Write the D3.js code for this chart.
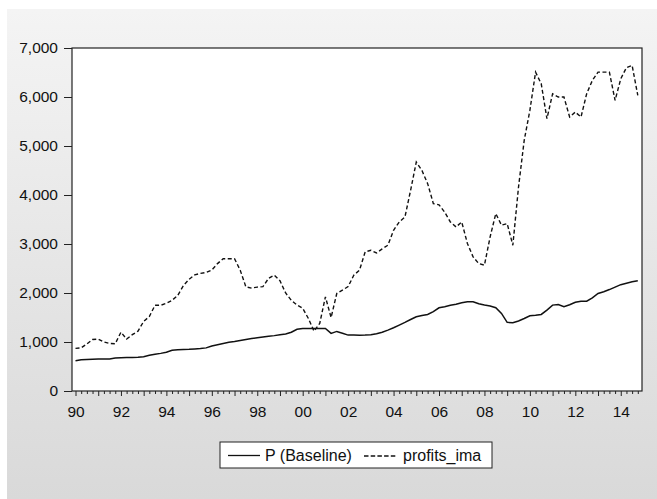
<!DOCTYPE html>
<html><head><meta charset="utf-8">
<script src="https://cdn.jsdelivr.net/npm/d3@7"></script>
<style>html,body{margin:0;padding:0;background:#fff;}svg{display:block;font-family:"Liberation Sans",Arial,sans-serif;}</style>
</head><body>
<svg id="c" width="657" height="499"></svg>
<script>
// ---- data (quarterly, 1990Q1 - 2014Q4) ----
const startYear = 1990;
const endYear = 2014;
const seriesNames = ["P (Baseline)", "profits_ima"];
const pBaseline = [
  618, 640, 645, 650,     // 1990
  652, 652, 655, 672,     // 1991
  680, 682, 685, 690,     // 1992
  699, 730, 750, 768,     // 1993
  790, 830, 840, 845,     // 1994
  850, 858, 865, 880,     // 1995
  920, 945, 970, 995,     // 1996
  1010, 1030, 1050, 1070, // 1997
  1085, 1100, 1115, 1130, // 1998
  1150, 1165, 1200, 1260, // 1999
  1275, 1277, 1277, 1277, // 2000
  1277, 1175, 1216, 1180, // 2001
  1141, 1141, 1140, 1141, // 2002
  1150, 1168, 1200, 1243, // 2003
  1290, 1345, 1400, 1460, // 2004
  1515, 1540, 1562, 1620, // 2005
  1698, 1720, 1750, 1770, // 2006
  1800, 1821, 1821, 1780, // 2007
  1753, 1735, 1700, 1583, // 2008
  1400, 1392, 1430, 1480, // 2009
  1535, 1545, 1562, 1650, // 2010
  1753, 1766, 1719, 1760, // 2011
  1810, 1830, 1834, 1900, // 2012
  1990, 2025, 2070, 2120, // 2013
  2170, 2200, 2230, 2250  // 2014
];
const profitsIma = [
  870, 880, 960, 1050,    // 1990
  1060, 1000, 970, 965,   // 1991
  1200, 1060, 1150, 1220, // 1992
  1420, 1520, 1750, 1750, // 1993
  1790, 1850, 1950, 2150, // 1994
  2280, 2370, 2400, 2420, // 1995
  2470, 2600, 2700, 2700, // 1996
  2700, 2466, 2126, 2100, // 1997
  2120, 2130, 2300, 2364, // 1998
  2250, 2000, 1850, 1753, // 1999
  1690, 1480, 1220, 1380, // 2000
  1922, 1500, 1990, 2060, // 2001
  2130, 2364, 2466, 2839, // 2002
  2873, 2817, 2900, 2975, // 2003
  3281, 3450, 3550, 4096, // 2004
  4673, 4500, 4232, 3825, // 2005
  3800, 3650, 3450, 3348, // 2006
  3450, 3010, 2737, 2600, // 2007
  2568, 3145, 3621, 3383, // 2008
  3417, 2975, 4164, 5115, // 2009
  5727, 6507, 6270, 5557, // 2010
  6067, 5999, 5999, 5591, // 2011
  5693, 5591, 6067, 6338, // 2012
  6507, 6507, 6507, 5930, // 2013
  6372, 6600, 6644, 6032  // 2014
];
const yTicks = [0, 1000, 2000, 3000, 4000, 5000, 6000, 7000];
const xTickLabels = ["90","92","94","96","98","00","02","04","06","08","10","12","14"];

// ---- drawing ----
const FONT = "Liberation Sans, Arial, sans-serif";
const svg = d3.select("#c");
const defs = svg.append("defs");
const grad = defs.append("linearGradient").attr("id","bg").attr("x1",0).attr("y1",0).attr("x2",0).attr("y2",1);
grad.append("stop").attr("offset","0%").attr("stop-color","#f4f4f4");
grad.append("stop").attr("offset","100%").attr("stop-color","#d9d9d9");
svg.append("rect").attr("x",7).attr("y",9).attr("width",650).attr("height",490).attr("fill","url(#bg)");

const frame = {left:72, top:48, right:642, bottom:391};
const nObs = pBaseline.length;
const x = d3.scaleLinear().domain([0, nObs-1]).range([75.5, 637.8]);
const y = d3.scaleLinear().domain([0, 7000]).range([frame.bottom, frame.top]);

svg.append("rect").attr("x",frame.left).attr("y",frame.top)
  .attr("width",frame.right-frame.left).attr("height",frame.bottom-frame.top)
  .attr("fill","#fff").attr("stroke","#222").attr("stroke-width",1.2);

// y axis
const yAxis = d3.axisLeft(y).tickValues(yTicks).tickSize(8).tickPadding(6)
  .tickFormat(d3.format(","));
const gy = svg.append("g").attr("transform",`translate(${frame.left},0)`).call(yAxis);
gy.select(".domain").remove();
gy.selectAll("line").attr("stroke","#222");
gy.selectAll("text").attr("font-size",15.5).attr("fill","#111").attr("font-family",FONT);

// x axis: quarterly minor ticks, yearly major ticks
const idx = d3.range(nObs);
const xAxisMinor = d3.axisBottom(x).tickValues(idx.filter(i=>i%4!==0)).tickSize(3).tickFormat("");
const gxm = svg.append("g").attr("transform",`translate(0,${frame.bottom})`).call(xAxisMinor);
gxm.select(".domain").remove();
gxm.selectAll("line").attr("stroke","#222");
const yearIdx = idx.filter(i=>i%4===0);
const xAxisMajor = d3.axisBottom(x).tickValues(yearIdx).tickSize(5).tickFormat("");
const gxM = svg.append("g").attr("transform",`translate(0,${frame.bottom})`).call(xAxisMajor);
gxM.select(".domain").remove();
gxM.selectAll("line").attr("stroke","#222");
const labIdx = yearIdx.filter((d,k)=>k%2===0);
const xAxisLab = d3.axisBottom(x).tickValues(labIdx).tickSize(0).tickPadding(15)
  .tickFormat((d,k)=>xTickLabels[k]);
const gxl = svg.append("g").attr("transform",`translate(0,${frame.bottom})`).call(xAxisLab);
gxl.select(".domain").remove();
gxl.selectAll("text").attr("font-size",15.5).attr("fill","#111").attr("font-family",FONT);

// lines
const line = d3.line().x((d,i)=>x(i)).y(d=>y(d));
svg.append("path").datum(pBaseline).attr("d",line).attr("fill","none")
  .attr("stroke","#111").attr("stroke-width",1.5);
svg.append("path").datum(profitsIma).attr("d",line).attr("fill","none")
  .attr("stroke","#111").attr("stroke-width",1.4).attr("stroke-dasharray","4,2.5");

// legend
const lg = svg.append("g");
lg.append("rect").attr("x",220).attr("y",442).attr("width",272).attr("height",26)
  .attr("fill","#fff").attr("stroke","#222").attr("stroke-width",1);
lg.append("line").attr("x1",228).attr("x2",260).attr("y1",455.5).attr("y2",455.5)
  .attr("stroke","#111").attr("stroke-width",1.3);
lg.append("text").attr("x",265).attr("y",461).attr("font-size",16).attr("fill","#111")
  .attr("font-family",FONT).text(seriesNames[0]);
lg.append("line").attr("x1",364).attr("x2",397).attr("y1",456).attr("y2",456)
  .attr("stroke","#111").attr("stroke-width",1.5).attr("stroke-dasharray","4.5,2.2");
lg.append("text").attr("x",403).attr("y",461).attr("font-size",16).attr("fill","#111")
  .attr("font-family",FONT).text(seriesNames[1]);
</script>
</body></html>
